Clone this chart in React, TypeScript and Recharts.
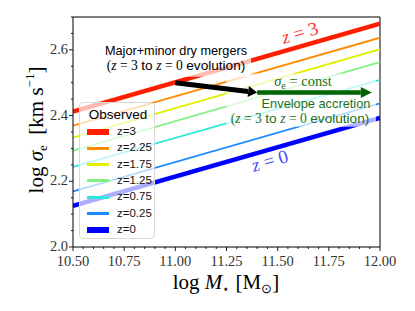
import React from 'react';
import { LineChart, Line, XAxis, YAxis, ReferenceLine, ReferenceArea, Legend } from 'recharts';

// log stellar mass at both ends of each relation
const massRange = [10.5, 12.0];

// log sigma_e read at log M = 10.5 and 12.0
const sigmaZ3 = [2.412, 2.68];
const sigmaZ225 = [2.369, 2.637];
const sigmaZ175 = [2.333, 2.602];
const sigmaZ125 = [2.293, 2.563];
const sigmaZ075 = [2.244, 2.509];
const sigmaZ025 = [2.169, 2.437];
const sigmaZ0 = [2.125, 2.393];

const seriesKeys = ['z3', 'z225', 'z175', 'z125', 'z075', 'z025', 'z0'];
const seriesLabels = ['z=3', 'z=2.25', 'z=1.75', 'z=1.25', 'z=0.75', 'z=0.25', 'z=0'];
const seriesValues = [sigmaZ3, sigmaZ225, sigmaZ175, sigmaZ125, sigmaZ075, sigmaZ025, sigmaZ0];

const xMajorTicks = [10.5, 10.75, 11.0, 11.25, 11.5, 11.75, 12.0];
const yMajorTicks = [2.0, 2.2, 2.4, 2.6];

// arrows (data coords)
const mergerArrow = [{ x: 11.0, y: 2.5 }, { x: 11.4, y: 2.47 }];
const accretionArrow = [{ x: 11.4, y: 2.47 }, { x: 11.96, y: 2.47 }];

const colors = ['#ff1f00', '#ff8c00', '#e2f000', '#80f080', '#2ee8d8', '#1a8cff', '#0000ff'];
const widths = [4.5, 1.8, 1.8, 1.8, 1.8, 1.8, 4.5];

const SERIF = '"Liberation Serif", serif';
const SANS = '"Liberation Sans", sans-serif';

const xTicks: number[] = [];
for (let i = 0; i <= 30; i++) xTicks.push(Math.round((10.5 + i * 0.05) * 100) / 100);
const yTicks: number[] = [];
for (let i = 0; i <= 14; i++) yTicks.push(Math.round((2.0 + i * 0.05) * 100) / 100);

const data = massRange.map((m, i) => {
    const row: Record<string, number> = { m };
    seriesKeys.forEach((k, j) => { row[k] = seriesValues[j][i]; });
    return row;
});

const isMajor = (v: number, list: number[]) => list.some((t) => Math.abs(t - v) < 1e-6);

const XTick = (props: any) => {
    const { x, y, payload } = props;
    const major = isMajor(payload.value, xMajorTicks);
    return (
        <g>
            <line x1={x} y1={y} x2={x} y2={y + (major ? 4 : 2)} stroke="#000" strokeWidth={0.9} />
            {major && (
                <text x={x} y={y + 19} textAnchor="middle" fontFamily={SERIF} fontSize={14.5} fill="#333">
                    {payload.value.toFixed(2)}
                </text>
            )}
        </g>
    );
};

const YTick = (props: any) => {
    const { x, y, payload } = props;
    const major = isMajor(payload.value, yMajorTicks);
    return (
        <g>
            <line x1={x - (major ? 4 : 2)} y1={y} x2={x} y2={y} stroke="#000" strokeWidth={0.9} />
            {major && (
                <text x={x - 5} y={y + 4} textAnchor="end" fontFamily={SERIF} fontSize={14.5} fill="#333">
                    {payload.value.toFixed(1)}
                </text>
            )}
        </g>
    );
};

const Arrow = (props: any) => {
    const { x1, y1, x2, y2, color, shaft, headLen, headWidth } = props;
    const dx = x2 - x1;
    const dy = y2 - y1;
    const len = Math.sqrt(dx * dx + dy * dy);
    const ux = dx / len;
    const uy = dy / len;
    const bx = x2 - ux * headLen;
    const by = y2 - uy * headLen;
    const px = -uy * headWidth / 2;
    const py = ux * headWidth / 2;
    return (
        <g>
            <line x1={x1} y1={y1} x2={bx} y2={by} stroke={color} strokeWidth={shaft} />
            <polygon points={`${x2},${y2} ${bx + px},${by + py} ${bx - px},${by - py}`} fill={color} />
        </g>
    );
};

const ObservedLegend = () => (
    <div style={{ position: 'relative', width: 76, height: 137, background: 'rgba(255,255,255,0.68)', border: '1px solid #d8d8d8', borderRadius: 4, boxSizing: 'border-box' }}>
        <div style={{ position: 'absolute', left: 0, width: 76, top: 4, textAlign: 'center', fontFamily: SANS, fontSize: 13.5, color: '#000' }}>Observed</div>
        {seriesLabels.map((label, i) => (
            <div key={label} style={{ position: 'absolute', left: 0, top: 29 + i * 16.3 - 8, height: 16, width: 76 }}>
                <div style={{ position: 'absolute', left: 7, width: 22, top: 8 - widths[i] / 2 - 0.5, height: widths[i] + 1, background: colors[i] }} />
                <div style={{ position: 'absolute', left: 37, top: 1, fontFamily: SANS, fontSize: 11.5, color: '#111' }}>{label}</div>
            </div>
        ))}
    </div>
);

const mi = (s: string) => <i style={{ fontFamily: SERIF }}>{s}</i>;
const rm = (s: string) => <span style={{ fontFamily: SERIF }}>{s}</span>;

const App: React.FC = () => {
    return (
        <div style={{ position: 'absolute', left: 0, top: 0, width: 415, height: 311, background: '#fff' }}>
            <LineChart width={415} height={311} data={data} margin={{ top: 17, right: 35, bottom: 34, left: 33 }}>
                <XAxis
                    type="number"
                    dataKey="m"
                    domain={[10.5, 12]}
                    ticks={xTicks}
                    interval={0}
                    tickSize={0}
                    tickMargin={0}
                    tickLine={false}
                    axisLine={{ stroke: '#000', strokeWidth: 1 }}
                    tick={<XTick />}
                    height={30}
                    allowDataOverflow
                />
                <YAxis
                    type="number"
                    domain={[2.0, 2.7]}
                    ticks={yTicks}
                    interval={0}
                    tickSize={0}
                    tickMargin={0}
                    tickLine={false}
                    axisLine={{ stroke: '#000', strokeWidth: 1 }}
                    tick={<YTick />}
                    width={40}
                    allowDataOverflow
                />
                <ReferenceLine y={2.7} stroke="#000" strokeWidth={1} />
                <ReferenceLine x={12} stroke="#000" strokeWidth={1} />
                {seriesKeys.map((k, i) => (
                    <Line
                        key={k}
                        type="linear"
                        dataKey={k}
                        name={seriesLabels[i]}
                        stroke={colors[i]}
                        strokeWidth={widths[i]}
                        dot={false}
                        isAnimationActive={false}
                    />
                ))}
                {/* translucent label boxes that fade the lines behind the texts */}
                <ReferenceArea zIndex={450} x1={10.63} x2={11.37} y1={2.518} y2={2.628} fill="#fff" fillOpacity={0.7} stroke="none" ifOverflow="visible" />
                <ReferenceArea zIndex={450} x1={11.25} x2={11.98} y1={2.366} y2={2.528} fill="#fff" fillOpacity={0.7} stroke="none" ifOverflow="visible" />
                <ReferenceLine
                    zIndex={460}
                    segment={mergerArrow}
                    ifOverflow="visible"
                    shape={(p: any) => <Arrow {...p} color="#000" shaft={5} headLen={9} headWidth={11} />}
                />
                <ReferenceLine
                    zIndex={460}
                    segment={accretionArrow}
                    ifOverflow="visible"
                    shape={(p: any) => <Arrow {...p} color="#006400" shaft={4.5} headLen={11} headWidth={11} />}
                />
                <Legend
                    layout="vertical"
                    align="center"
                    verticalAlign="middle"
                    content={() => <ObservedLegend />}
                    wrapperStyle={{ left: 79, top: 102, width: 76, height: 137 }}
                />
            </LineChart>

            {/* axis titles */}
            <div style={{ position: 'absolute', left: 126, top: 270, width: 200, textAlign: 'center', fontFamily: SERIF, fontSize: 21, color: '#000', whiteSpace: 'nowrap' }}>
                log&nbsp;<i>M</i><span style={{ fontSize: 12, verticalAlign: -4 }}>⋆</span>&nbsp;[M<span style={{ fontSize: 13, verticalAlign: -4 }}>⊙</span>]
            </div>
            <div style={{ position: 'absolute', left: 30 - 100, top: 130 - 14, width: 200, height: 28, lineHeight: '28px', textAlign: 'center', transform: 'rotate(-90deg)', fontFamily: SERIF, fontSize: 21, color: '#000', whiteSpace: 'nowrap' }}>
                log&nbsp;<i>σ</i><span style={{ fontSize: 13, verticalAlign: -4 }}>e</span>&nbsp;&nbsp;[km&nbsp;s<span style={{ fontSize: 13, verticalAlign: 9 }}>−1</span>]
            </div>

            {/* annotations */}
            <div style={{ position: 'absolute', left: 76, top: 44, width: 200, textAlign: 'center', fontFamily: SANS, fontSize: 12.7, lineHeight: '14.5px', color: '#000', whiteSpace: 'nowrap' }}>
                <div>Major+minor dry mergers</div>
                <div style={{ fontSize: 13.6 }}>{rm('(')}{mi('z')}{rm(' = 3 ')}to {mi('z')}{rm(' = 0 ')}evolution)</div>
            </div>
            <div style={{ position: 'absolute', left: 253, top: 73, width: 100, textAlign: 'center', fontFamily: SERIF, fontSize: 14.5, color: '#1a701a', whiteSpace: 'nowrap' }}>
                <i>σ</i><span style={{ fontSize: 10, verticalAlign: -3 }}>e</span> = const
            </div>
            <div style={{ position: 'absolute', left: 200, top: 97, width: 200, textAlign: 'center', fontFamily: SANS, fontSize: 12.8, lineHeight: '14.5px', color: '#1a701a', whiteSpace: 'nowrap' }}>
                <div style={{ marginLeft: 32 }}>Envelope accretion</div>
                <div style={{ fontSize: 13.6 }}>{rm('(')}{mi('z')}{rm(' = 3 ')}to {mi('z')}{rm(' = 0 ')}evolution)</div>
            </div>
            <div style={{ position: 'absolute', left: 270, top: 22, width: 60, textAlign: 'center', fontFamily: SERIF, fontSize: 19, color: '#ff3030', transform: 'rotate(-16deg)', whiteSpace: 'nowrap' }}>
                <i>z</i> = 3
            </div>
            <div style={{ position: 'absolute', left: 240, top: 150, width: 60, textAlign: 'center', fontFamily: SERIF, fontSize: 19, color: '#4848ff', transform: 'rotate(-16deg)', whiteSpace: 'nowrap' }}>
                <i>z</i> = 0
            </div>
        </div>
    );
};

export default App;
